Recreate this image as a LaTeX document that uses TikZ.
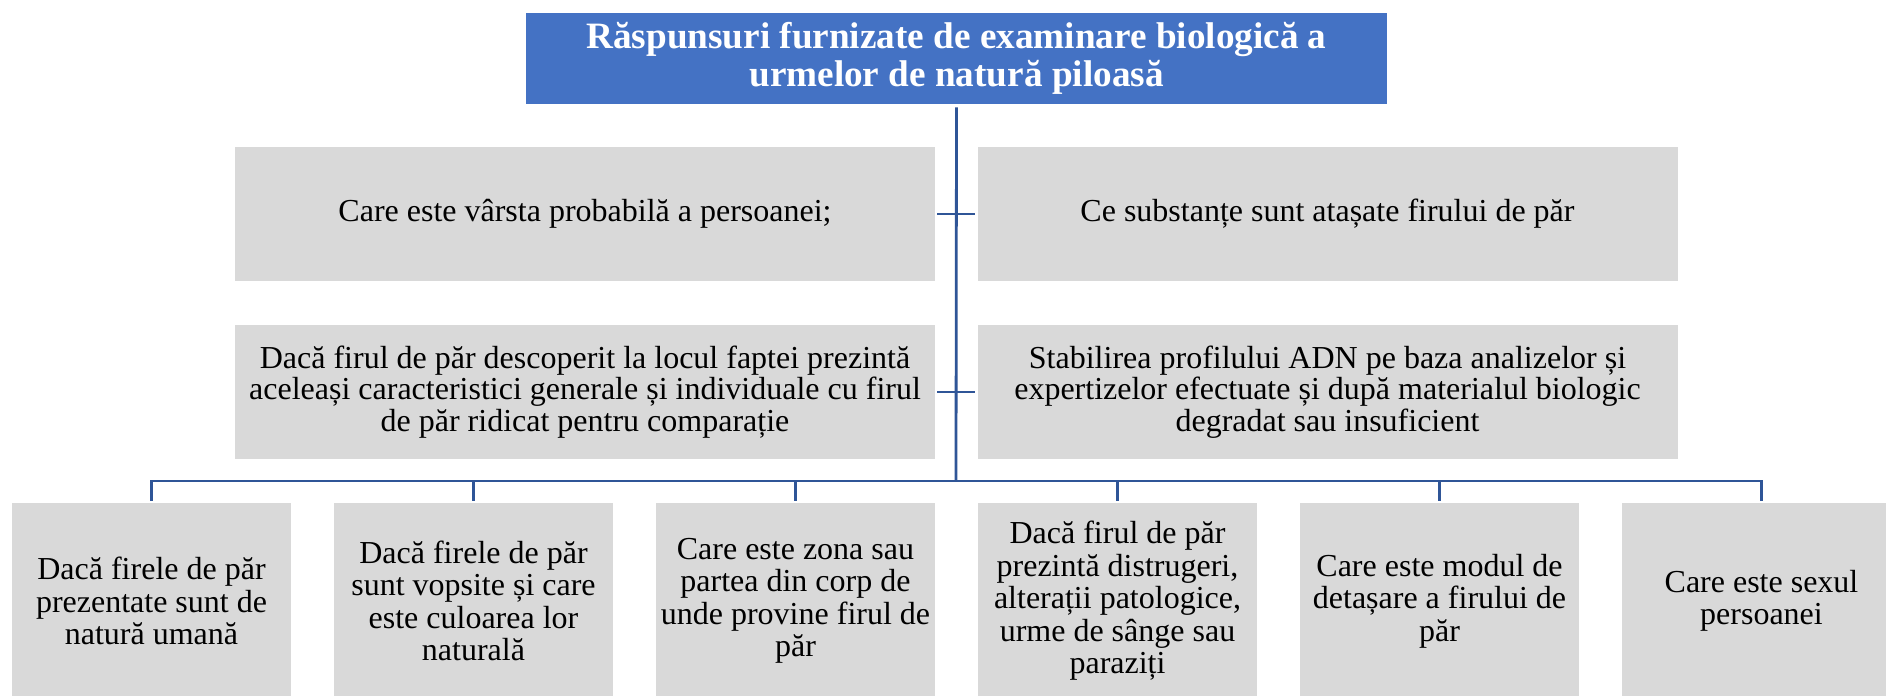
\documentclass[tikz,border=0pt]{standalone}
\usepackage{fontspec}
\setmainfont{Liberation Serif}
\definecolor{titleblue}{HTML}{4472C4}
\definecolor{linkblue}{HTML}{2F5597}
\definecolor{boxgray}{HTML}{D9D9D9}
\tikzset{
  titlebox/.style={fill=titleblue, text=white, font=\fontsize{18.6}{19}\selectfont\bfseries,
    align=center, minimum width=430.5pt, minimum height=45.5pt, inner sep=0pt},
  midbox/.style={fill=boxgray, text=black, font=\fontsize{16}{15.9}\selectfont,
    align=center, minimum width=350pt, minimum height=67pt, inner sep=0pt},
  botbox/.style={fill=boxgray, text=black, font=\fontsize{16}{16.25}\selectfont,
    align=center, minimum width=139.5pt, minimum height=98pt, inner sep=0pt},
  link/.style={draw=linkblue, line width=1.4pt}
}
\begin{document}
\begin{tikzpicture}[x=0.5pt, y=-0.5pt]
\useasboundingbox (0,0) rectangle (1886,696);
\node[titlebox] (title) at (956.5,58.5) {Răspunsuri furnizate de examinare biologică a\\urmelor de natură piloasă};
\node[midbox] (ml1) at (585,214) {Care este vârsta probabilă a persoanei;};
\node[midbox] (mr1) at (1327.5,214) {Ce substanțe sunt atașate firului de păr};
\node[midbox] (ml2) at (585,392) {Dacă firul de păr descoperit la locul faptei prezintă\\aceleași caracteristici generale și individuale cu firul\\de păr ridicat pentru comparație};
\node[midbox] (mr2) at (1327.5,392) {Stabilirea profilului ADN pe baza analizelor și\\expertizelor efectuate și după materialul biologic\\degradat sau insuficient};
\node[botbox] (b1) at (151.5,601) {Dacă firele de păr\\prezentate sunt de\\natură umană};
\node[botbox] (b2) at (473.5,601) {Dacă firele de păr\\sunt vopsite și care\\este culoarea lor\\naturală};
\node[botbox] (b3) at (795.5,601) {Care este zona sau\\partea din corp de\\unde provine firul de\\păr};
\node[botbox] (b4) at (1117.5,601) {Dacă firul de păr\\prezintă distrugeri,\\alterații patologice,\\urme de sânge sau\\paraziți};
\node[botbox] (b5) at (1439.5,601) {Care este modul de\\detașare a firului de\\păr};
\node[botbox] (b6) at (1761.5,601) {Care este sexul\\persoanei};
\coordinate (bus) at (956,481);
\draw[link] ([yshift=-1.5pt]title.south) -- (bus);
\draw[link] ([yshift=1pt]b1.north) |- (bus) -| ([yshift=1pt]b6.north);
\foreach \b in {b2,b3,b4,b5}
  \draw[link] ([yshift=1pt]\b.north) -- (\b.north |- bus);
\draw[link] ([xshift=1pt]ml1.east) -- ([xshift=-1pt]mr1.west);
\draw[link] ([xshift=1pt]ml2.east) -- ([xshift=-1pt]mr2.west);
\end{tikzpicture}
\end{document}
